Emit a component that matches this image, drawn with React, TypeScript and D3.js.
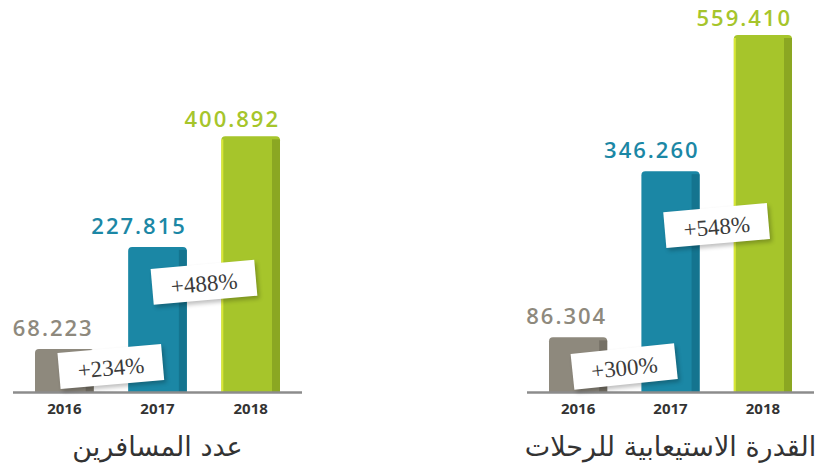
import React from "react";
import * as d3 from "d3";

const years = ["2016", "2017", "2018"];
const passengers = [68.223, 227.815, 400.892];
const capacity = [86.304, 346.26, 559.41];
const passengerGrowth = ["+234%", "+488%"];
const capacityGrowth = ["+300%", "+548%"];
const titles = ["عدد المسافرين", "القدرة الاستيعابية للرحلات"];

const W = 829;
const H = 466;
const colors = ["#8e897d", "#1b87a5", "#a6c52b"];
const darks = ["#6f6a5f", "#136f89", "#849f21"];
const baseY = 392.5;

const y = d3.scaleLinear().domain([0, d3.max(capacity)]).range([baseY, 35]);

const fmt = (v) => v.toFixed(3);

const Badge = ({ cx, cy, text, angle }) => (
  <g transform={`translate(${cx},${cy}) rotate(${angle})`}>
    <rect x={-50} y={-16} width={104} height={36} fill="#000" opacity={0.25} filter="url(#blur)" />
    <rect x={-52} y={-19} width={104} height={36} fill="#fff" />
    <text
      x={0}
      y={8}
      textAnchor="middle"
      fontFamily="'Liberation Serif', 'DejaVu Serif', serif"
      fontSize={23}
      fill="#3b3b3b"
    >
      {text}
    </text>
  </g>
);

const Panel = ({ range, values, growth, title, angles }) => {
  const x = d3.scaleBand().domain(years).range(range).paddingInner(0.37).paddingOuter(0);
  const bw = x.bandwidth();
  const cx = (i) => x(years[i]) + bw / 2;
  return (
    <g>
      {values.map((v, i) => {
        const x0 = x(years[i]);
        const top = y(v);
        const h = baseY - top;
        const path = d3.path();
        const r = 4;
        path.moveTo(x0, baseY);
        path.lineTo(x0, top + r);
        path.quadraticCurveTo(x0, top, x0 + r, top);
        path.lineTo(x0 + bw - r, top);
        path.quadraticCurveTo(x0 + bw, top, x0 + bw, top + r);
        path.lineTo(x0 + bw, baseY);
        path.closePath();
        return (
          <g key={years[i]}>
            <path d={path.toString()} fill={colors[i]} />
            <rect x={x0 + bw - 8} y={top + 3} width={8} height={h - 3} fill={darks[i]} opacity={0.8} />
            {i === 2 && <rect x={x0} y={top + 3} width={2} height={h - 3} fill="#e6ef3c" opacity={0.8} />}
            <text
              x={x0 + bw}
              y={top - (i === 2 ? 9 : 13)}
              textAnchor="end"
              fontFamily="'Open Sans', sans-serif"
              fontWeight={600}
              letterSpacing={2}
              fontSize={22}
              fill={colors[i]}
            >
              {fmt(v)}
            </text>
            <text
              x={cx(i)}
              y={baseY + 21}
              textAnchor="middle"
              fontFamily="'Open Sans', sans-serif"
              fontWeight={700}
              fontSize={15}
              fill="#333"
            >
              {years[i]}
            </text>
          </g>
        );
      })}
      <line
        x1={range[0] - 22}
        x2={range[1] + 22}
        y1={baseY}
        y2={baseY}
        stroke="#8c8c8c"
        strokeWidth={2.5}
      />
      {growth.map((g, i) => (
        <Badge
          key={g}
          cx={(cx(i) + cx(i + 1)) / 2}
          cy={i === 0 ? baseY - 25 : y(values[1] * 0.75)}
          text={g}
          angle={angles[i]}
        />
      ))}
      <text
        x={(range[0] + range[1]) / 2}
        y={456}
        textAnchor="middle"
        fontFamily="'DejaVu Sans', sans-serif"
        fontSize={27}
        fill="#333"
      >
        {title}
      </text>
    </g>
  );
};

export default function App() {
  return (
    <svg
      width={W}
      height={H}
      viewBox={`0 0 ${W} ${H}`}
      style={{ position: "absolute", left: 0, top: 0, background: "#fff" }}
    >
      <defs>
        <filter id="blur" x="-20%" y="-40%" width="140%" height="180%">
          <feGaussianBlur stdDeviation={2} />
        </filter>
      </defs>
      <rect width={W} height={H} fill="#fff" />
      <Panel range={[35, 280]} values={passengers} growth={passengerGrowth} title={titles[0]} angles={[-5, -5]} />
      <Panel range={[549, 792]} values={capacity} growth={capacityGrowth} title={titles[1]} angles={[-6, -5]} />
    </svg>
  );
}
